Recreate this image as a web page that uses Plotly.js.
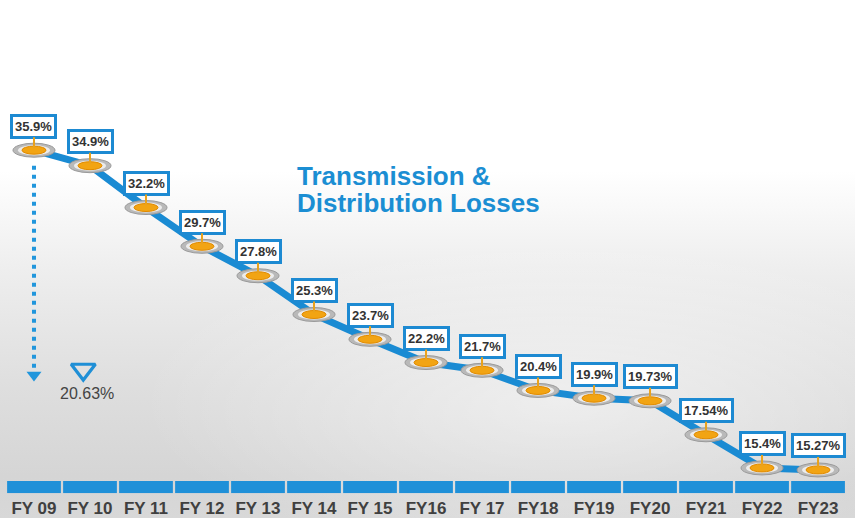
<!DOCTYPE html>
<html>
<head>
<meta charset="utf-8">
<script src="https://cdn.plot.ly/plotly-3.0.1.min.js"></script>
<style>
  html, body { margin: 0; padding: 0; }
  body {
    width: 855px; height: 518px; overflow: hidden;
    background:
      radial-gradient(ellipse 420px 160px at 560px 400px, rgba(255,255,255,0.5), rgba(255,255,255,0) 100%),
      linear-gradient(to bottom, #ffffff 0%, #ffffff 33%, #eeeeee 52%, #dedede 75%, #d5d5d5 92%, #d8d8d8 100%);
  }
  #chart { width: 855px; height: 518px; }
</style>
</head>
<body>
<div id="chart"></div>
<script>
// ---- data ----
const fiscalYears = ["FY 09","FY 10","FY 11","FY 12","FY 13","FY 14","FY 15","FY16","FY 17","FY18","FY19","FY20","FY21","FY22","FY23"];
const lossPct = [35.9, 34.9, 32.2, 29.7, 27.8, 25.3, 23.7, 22.2, 21.7, 20.4, 19.9, 19.73, 17.54, 15.4, 15.27];
const lossLabels = ["35.9%","34.9%","32.2%","29.7%","27.8%","25.3%","23.7%","22.2%","21.7%","20.4%","19.9%","19.73%","17.54%","15.4%","15.27%"];
const dropArrowY = [34.9, 21.4];
const dropMarkY = 21.75;
const dropTextY = 20.2;
const titleLines = ["Transmission &", "Distribution Losses"];

// ---- derived ----
const idx = fiscalYears.map((_, i) => i);
const totalDrop = (lossPct[0] - lossPct[lossPct.length - 1]).toFixed(2) + "%";
const blue = "#1a8bd3";
const narrowFont = "'Liberation Sans', Arial, sans-serif";

const traces = [
  { type: "bar", x: idx, y: idx.map(() => 1), xaxis: "x", yaxis: "y2",
    marker: { color: "#1f90d8", line: { width: 0 } }, hoverinfo: "skip", showlegend: false },
  { type: "scatter", mode: "lines", x: idx, y: lossPct,
    line: { color: blue, width: 7 }, hoverinfo: "skip", showlegend: false },
  { type: "scatter", mode: "lines", x: [0, 0], y: dropArrowY,
    line: { color: "#2196dc", width: 4, dash: "4px,5px" }, hoverinfo: "skip", showlegend: false },
  { type: "scatter", mode: "markers", x: [0], y: [dropArrowY[1]],
    marker: { symbol: "triangle-down", size: 13, color: "#2196dc" }, hoverinfo: "skip", showlegend: false },
  { type: "scatter", mode: "markers", x: [0.88], y: [dropMarkY],
    marker: { symbol: "triangle-down-open", size: 21, color: "#1f8fd6", line: { width: 3.2, color: "#1f8fd6" } },
    hoverinfo: "skip", showlegend: false }
];

const shapes = [];
idx.forEach(i => {
  shapes.push({ type: "circle", layer: "above", xref: "x", yref: "y",
    xsizemode: "pixel", ysizemode: "pixel", xanchor: i, yanchor: lossPct[i],
    x0: -21, x1: 21, y0: -7, y1: 7, fillcolor: "#b9b9b9", line: { color: "#9a9a9a", width: 1 } });
  shapes.push({ type: "circle", layer: "above", xref: "x", yref: "y",
    xsizemode: "pixel", ysizemode: "pixel", xanchor: i, yanchor: lossPct[i],
    x0: -16, x1: 16, y0: -5, y1: 5, fillcolor: "#ececec", line: { width: 0 } });
  shapes.push({ type: "circle", layer: "above", xref: "x", yref: "y",
    xsizemode: "pixel", ysizemode: "pixel", xanchor: i, yanchor: lossPct[i],
    x0: -12, x1: 12, y0: -4, y1: 4, fillcolor: "#f2a413", line: { color: "#e08a00", width: 1 } });
});

const annotations = idx.map(i => ({
  x: i, y: lossPct[i], xref: "x", yref: "y",
  text: "<b>" + lossLabels[i] + "</b>",
  showarrow: true, arrowhead: 0, arrowwidth: 2, arrowcolor: "#e9a21c",
  ax: 0, ay: -24, standoff: 2,
  font: { family: narrowFont, size: 13, color: "#333333" },
  bgcolor: "#ffffff", bordercolor: "#1d8ad2", borderwidth: 3, borderpad: 2
}));
titleLines.forEach((t, k) => annotations.push({
  xref: "paper", yref: "paper", x: 0.345, y: 1 - (159 + 27 * k) / 518, xanchor: "left", yanchor: "top",
  text: "<b>" + t + "</b>", showarrow: false, align: "left",
  font: { family: "'Liberation Sans', Arial, sans-serif", size: 26, color: "#1b8ed3" }
}));
annotations.push({
  xref: "x", yref: "y", x: 0.95, y: dropTextY, text: totalDrop, showarrow: false,
  font: { family: narrowFont, size: 16, color: "#444444" }
});

const layout = {
  width: 855, height: 518,
  margin: { l: 0, r: 0, t: 0, b: 0 },
  paper_bgcolor: "rgba(0,0,0,0)", plot_bgcolor: "rgba(0,0,0,0)",
  showlegend: false, bargap: 0.04,
  xaxis: {
    range: [-0.607, 14.66], anchor: "y2", showgrid: false, zeroline: false, showline: false,
    tickmode: "array", tickvals: idx, ticktext: fiscalYears.map(s => "<b>" + s + "</b>"), ticks: "",
    ticklabelstandoff: 3,
    tickfont: { family: narrowFont, size: 17, color: "#404040" },
    fixedrange: true
  },
  yaxis: { domain: [0, 1], range: [12.17, 45.59], visible: false, fixedrange: true },
  yaxis2: { domain: [0.048, 0.0714], range: [0, 1], visible: false, fixedrange: true },
  shapes: shapes, annotations: annotations
};

Plotly.newPlot("chart", traces, layout, { staticPlot: true, displayModeBar: false });
</script>
</body>
</html>
